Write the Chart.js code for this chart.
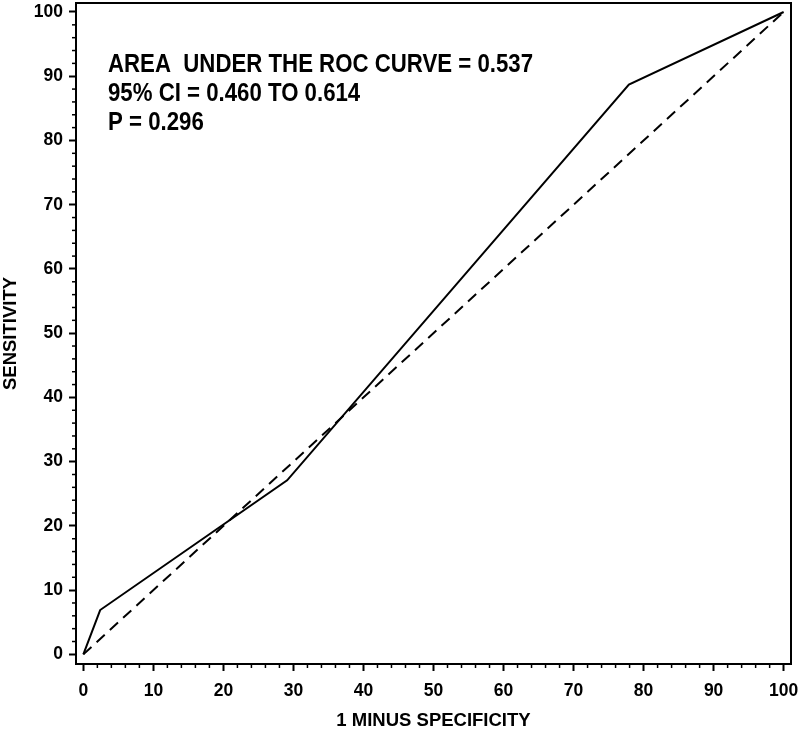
<!DOCTYPE html>
<html>
<head>
<meta charset="utf-8">
<script src="https://cdn.jsdelivr.net/npm/chart.js@4/dist/chart.umd.min.js"></script>
<style>
  html, body { margin: 0; padding: 0; background: #fff; }
  #wrap { width: 799px; height: 734px; }
</style>
</head>
<body>
<div id="wrap"><canvas id="rocChart"></canvas></div>
<script>
// ROC curve (1 - specificity, sensitivity)
const rocX = [0, 2.4, 29.1, 77.9, 100];
const rocY = [0, 6.9, 27.1, 88.7, 100];
// reference diagonal
const refX = [0, 100];
const refY = [0, 100];

const xTicks = [0, 10, 20, 30, 40, 50, 60, 70, 80, 90, 100];
const yTicks = [0, 10, 20, 30, 40, 50, 60, 70, 80, 90, 100];

const xTitle = '1 MINUS SPECIFICITY';
const yTitle = 'SENSITIVITY';
const statsText = [
    'AREA  UNDER THE ROC CURVE = 0.537',
    '95% CI = 0.460 TO 0.614',
    'P = 0.296'
];

const toPoints = (xs, ys) => xs.map((x, i) => ({ x: x, y: ys[i] }));

// top/right frame, minor ticks and the stats box
const framePlugin = {
    id: 'frame',
    afterDraw(chart) {
        const ctx = chart.ctx;
        const a = chart.chartArea;
        const xs = chart.scales.x, ys = chart.scales.y;
        ctx.save();
        ctx.strokeStyle = '#000';
        ctx.lineWidth = 2;
        ctx.beginPath();
        ctx.moveTo(a.left, a.top);
        ctx.lineTo(a.right, a.top);
        ctx.lineTo(a.right, a.bottom);
        ctx.stroke();

        ctx.lineWidth = 1.5;
        for (let v = 0; v <= 100; v += 2) {
            if (v % 10 === 0) continue;
            const px = xs.getPixelForValue(v);
            ctx.beginPath();
            ctx.moveTo(px, a.bottom);
            ctx.lineTo(px, a.bottom + 4);
            ctx.stroke();
            const py = ys.getPixelForValue(v);
            ctx.beginPath();
            ctx.moveTo(a.left - 4, py);
            ctx.lineTo(a.left, py);
            ctx.stroke();
        }

        ctx.fillStyle = '#000';
        ctx.font = 'bold 25px "Liberation Sans", Arial, sans-serif';
        ctx.textBaseline = 'alphabetic';
        ctx.textAlign = 'left';
        const w0 = ctx.measureText(statsText[0]).width;
        const sx = 425 / w0;
        statsText.forEach((line, i) => {
            ctx.save();
            ctx.translate(108, 72 + i * 29);
            ctx.scale(sx, 1);
            ctx.fillText(line, 0, 0);
            ctx.restore();
        });
        ctx.restore();
    }
};

const tickFont = { family: '"Liberation Sans", Arial, sans-serif', size: 17.5, weight: 'bold' };
const titleFont = { family: '"Liberation Sans", Arial, sans-serif', size: 18.5, weight: 'bold' };

const ctx = document.getElementById('rocChart').getContext('2d');
const myChart = new Chart(ctx, {
    type: 'scatter',
    data: {
        datasets: [
            {
                data: toPoints(rocX, rocY),
                showLine: true,
                borderColor: '#000',
                borderWidth: 2,
                pointRadius: 0,
                fill: false
            },
            {
                data: toPoints(refX, refY),
                showLine: true,
                borderColor: '#000',
                borderWidth: 2,
                borderDash: [11, 7],
                pointRadius: 0,
                fill: false
            }
        ]
    },
    plugins: [framePlugin],
    options: {
        responsive: true,
        maintainAspectRatio: false,
        animation: false,
        layout: { padding: { top: 3, right: 8, left: 0, bottom: 0 } },
        plugins: {
            legend: { display: false },
            tooltip: { enabled: false }
        },
        scales: {
            x: {
                type: 'linear',
                min: -1.05,
                max: 101.05,
                afterBuildTicks: s => { s.ticks = xTicks.map(v => ({ value: v })); },
                afterFit: s => { s.height = 70; s.paddingLeft = 0; s.paddingRight = 0; },
                ticks: { color: '#000', font: tickFont, padding: 10, maxRotation: 0, autoSkip: false },
                grid: { drawOnChartArea: false, tickLength: 7, tickWidth: 2, tickColor: '#000' },
                border: { color: '#000', width: 2 },
                title: { display: true, text: xTitle, color: '#000', font: titleFont, padding: { top: 0, bottom: 2 } }
            },
            y: {
                type: 'linear',
                min: -1.5,
                max: 101.4,
                afterBuildTicks: s => { s.ticks = yTicks.map(v => ({ value: v })); },
                afterFit: s => { s.width = 76; s.paddingTop = 0; s.paddingBottom = 0; },
                ticks: { color: '#000', font: tickFont, padding: 6, autoSkip: false },
                grid: { drawOnChartArea: false, tickLength: 7, tickWidth: 2, tickColor: '#000' },
                border: { color: '#000', width: 2 },
                title: { display: true, text: yTitle, color: '#000', font: titleFont, padding: { top: 0, bottom: 0 } }
            }
        }
    }
});
</script>
</body>
</html>
